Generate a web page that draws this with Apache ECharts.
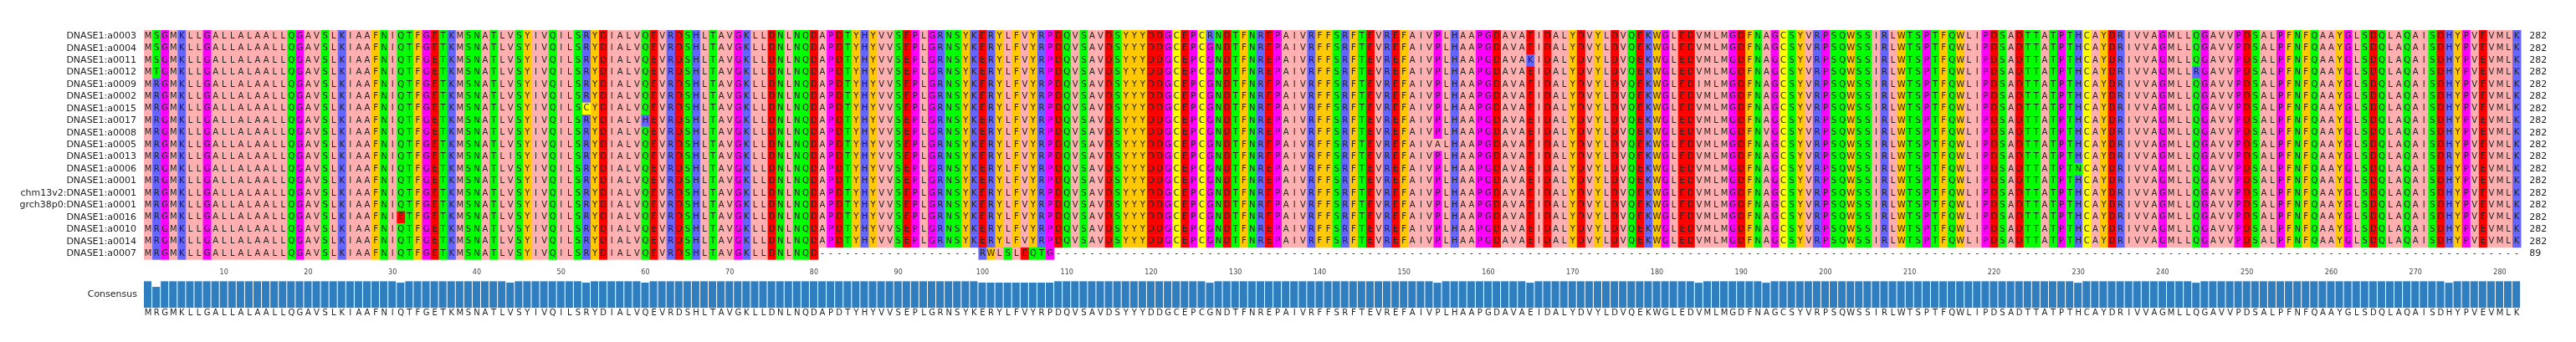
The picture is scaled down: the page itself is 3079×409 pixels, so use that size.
<!DOCTYPE html>
<html>
<head>
<meta charset="utf-8">
<script src="https://cdn.jsdelivr.net/npm/echarts@6/dist/echarts.min.js"></script>
<style>
html, body { margin: 0; padding: 0; background: #fff; }
#container { width: 3079px; height: 409px; }
</style>
</head>
<body>
<div id="container"></div>
<script>
// 序列名
var rowNames = ['DNASE1:a0003', 'DNASE1:a0004', 'DNASE1:a0011', 'DNASE1:a0012', 'DNASE1:a0009',
    'DNASE1:a0002', 'DNASE1:a0015', 'DNASE1:a0017', 'DNASE1:a0008', 'DNASE1:a0005', 'DNASE1:a0013',
    'DNASE1:a0006', 'DNASE1:a0001', 'chm13v2:DNASE1:a0001', 'grch38p0:DNASE1:a0001',
    'DNASE1:a0016', 'DNASE1:a0010', 'DNASE1:a0014', 'DNASE1:a0007'];

// 参考序列 (282)
var refSeq = 'MRGMKLLGALLALAALLQGAVSLKIAAFNIQTFGETKMSNATLVSYIVQILSRYDIALVQEVRDSHLTAVGKLLDNLNQDAPDTYHYVVSEPLGRNSYKERYLFVYRPDQVSAVDSYYYDDGCEPCGNDTFNREPAIVRFFSRFTEVREFAIVPLHAAPGDAVAEIDALYDVYLDVQEKWGLEDVMLMGDFNAGCSYVRPSQWSSIRLWTSPTFQWLIPDSADTTATPTHCAYDRIVVAGMLLQGAVVPDSALPFNFQAAYGLSDQLAQAISDHYPVEVMLK';

// 变异: [行, 位置(1起), 氨基酸]
var variants = [
    [0, 2, 'S'], [0, 127, 'R'],
    [1, 2, 'S'],
    [2, 2, 'S'], [2, 165, 'K'],
    [3, 2, 'T'], [3, 244, 'R'],
    [4, 185, 'I'],
    [6, 53, 'C'],
    [7, 60, 'H'],
    [8, 193, 'V'],
    [9, 154, 'A'],
    [10, 44, 'I'], [10, 274, 'R'],
    [11, 230, 'N'],
    [15, 31, 'E']
];

// a0007 截短序列 (89)
var shortRow = 18;
var shortSeq = refSeq.slice(0, 80) + '-------------------' + 'RWLSLEQTG';
var shortLens = 89;

// 标尺
var tickLabels = [10, 20, 30, 40, 50, 60, 70, 80, 90, 100, 110, 120, 130, 140, 150, 160, 170, 180, 190, 200, 210, 220, 230, 240, 250, 260, 270, 280];

var zappo = {
    I: '#ffafaf', L: '#ffafaf', V: '#ffafaf', A: '#ffafaf', M: '#ffafaf',
    F: '#ffc800', W: '#ffc800', Y: '#ffc800',
    K: '#6464ff', R: '#6464ff', H: '#6464ff',
    D: '#ff0000', E: '#ff0000',
    S: '#00ff00', T: '#00ff00', N: '#00ff00', Q: '#00ff00',
    P: '#ff00ff', G: '#ff00ff',
    C: '#ffff00'
};

// 拼序列
var seqs = [];
for (var r = 0; r < rowNames.length; r++) {
    var s = refSeq.split('');
    if (r === shortRow) {
        s = shortSeq.split('');
        while (s.length < refSeq.length) s.push('-');
    }
    seqs.push(s);
}
variants.forEach(function (v) { seqs[v[0]][v[1] - 1] = v[2]; });

var cells = [];
for (var r = 0; r < seqs.length; r++) {
    for (var p = 0; p < seqs[r].length; p++) {
        cells.push([p + 1, r]);
    }
}

// 一致性 (不计空位)
var consensus = [];
var consData = [];
for (var p = 0; p < refSeq.length; p++) {
    var cnt = {}, total = 0;
    for (var r = 0; r < seqs.length; r++) {
        var c = seqs[r][p];
        if (c !== '-') { cnt[c] = (cnt[c] || 0) + 1; total++; }
    }
    var best = '-', bn = 0;
    for (var k in cnt) { if (cnt[k] > bn) { bn = cnt[k]; best = k; } }
    consensus.push(best);
    consData.push([p + 1, bn / total]);
}

var lens = rowNames.map(function (n, i) { return i === shortRow ? shortLens : refSeq.length; });

var myChart = echarts.init(document.getElementById('container'));
var ROWH = 14.44;
var option = {
    animation: false,
    grid: { left: 172, top: 36, width: 282 * 10.075, height: 24 * ROWH },
    xAxis: { type: 'value', min: 0.5, max: 282.5, show: false },
    yAxis: { type: 'value', min: 0, max: 24, inverse: true, show: false },
    series: [
        {
            type: 'custom',
            progressive: 0,
            data: cells,
            renderItem: function (params, api) {
                var p = api.value(0), r = api.value(1);
                var c = seqs[r][p - 1];
                var a = api.coord([p - 0.5, r]);
                var b = api.coord([p + 0.5, r + 1]);
                var children = [];
                if (c !== '-') {
                    children.push({ type: 'rect', shape: { x: a[0], y: a[1], width: b[0] - a[0] + 0.3, height: b[1] - a[1] + 0.3 },
                        style: { fill: zappo[c] || '#ffffff' } });
                }
                children.push({ type: 'text', style: { text: c, x: (a[0] + b[0]) / 2, y: (a[1] + b[1]) / 2,
                    align: 'center', verticalAlign: 'middle', fill: '#222', font: '10px "DejaVu Sans"' } });
                return { type: 'group', children: children };
            }
        },
        {
            // 行名 + 长度
            type: 'custom',
            data: rowNames.map(function (n, i) { return [0.5, i]; }),
            renderItem: function (params, api) {
                var i = params.dataIndex;
                var a = api.coord([0.5, i + 0.5]);
                var b = api.coord([282.5, i + 0.5]);
                return { type: 'group', children: [
                    { type: 'text', style: { text: rowNames[i], x: a[0] - 9, y: a[1], align: 'right', verticalAlign: 'middle',
                        fill: '#222', font: '11px "DejaVu Sans"' } },
                    { type: 'text', style: { text: String(lens[i]), x: b[0] + 10, y: b[1], align: 'left', verticalAlign: 'middle',
                        fill: '#222', font: '11px "DejaVu Sans"' } }
                ] };
            }
        },
        {
            // 标尺
            type: 'custom',
            data: tickLabels.map(function (t) { return [t, 20.1]; }),
            renderItem: function (params, api) {
                var a = api.coord([api.value(0), api.value(1)]);
                return { type: 'text', style: { text: String(api.value(0)), x: a[0], y: a[1], align: 'center',
                    verticalAlign: 'middle', fill: '#444', font: '8px "DejaVu Sans"' } };
            }
        },
        {
            // 一致性柱 + 字母
            type: 'custom',
            data: consData,
            renderItem: function (params, api) {
                var p = api.value(0), f = api.value(1);
                var a = api.coord([p - 0.5, 23 - 2.2 * f]);
                var b = api.coord([p + 0.5, 23]);
                var t = api.coord([p, 23.45]);
                return { type: 'group', children: [
                    { type: 'rect', shape: { x: a[0], y: a[1], width: b[0] - a[0] - 1, height: b[1] - a[1] },
                        style: { fill: '#2f7fc0' } },
                    { type: 'text', style: { text: consensus[p - 1], x: t[0], y: t[1], align: 'center', verticalAlign: 'middle',
                        fill: '#222', font: '10px "DejaVu Sans"' } }
                ] };
            }
        }
    ],
    graphic: [{ type: 'text', right: 3079 - 164, top: 347, style: { text: 'Consensus', fill: '#222', font: '11px "DejaVu Sans"' } }]
};
myChart.setOption(option);
</script>
</body>
</html>
